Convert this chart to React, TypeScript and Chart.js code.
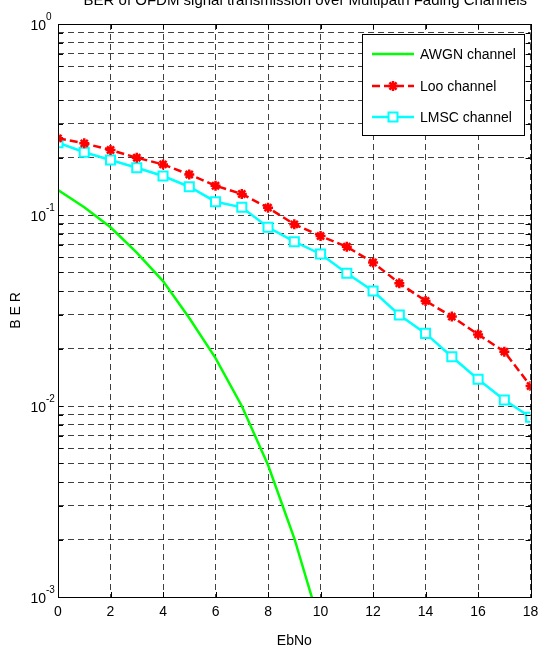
import React, { useEffect, useRef } from "react";
import { Chart, registerables } from "chart.js";

Chart.register(...registerables);

// ---- data ----
const ebNo = [0, 1, 2, 3, 4, 5, 6, 7, 8, 9, 10, 11, 12, 13, 14, 15, 16, 17, 18];
const awgnEbNo = [0, 1, 2, 3, 4, 5, 6, 7, 8, 9, 10];
const awgnBer = [0.135, 0.1097, 0.0862, 0.0635, 0.0451, 0.0289, 0.0178, 0.01, 0.00491, 0.00203, 0.0007];
const looBer = [
  0.252, 0.2373, 0.219, 0.1995, 0.184, 0.163, 0.1423, 0.1288, 0.1092, 0.0894,
  0.0776, 0.0682, 0.0564, 0.0439, 0.0355, 0.0294, 0.0237, 0.01925, 0.01273,
];
const lmscBer = [
  0.239, 0.213, 0.194, 0.1768, 0.16, 0.1406, 0.1174, 0.1097, 0.0862, 0.0725,
  0.0625, 0.0495, 0.04, 0.02995, 0.024, 0.0181, 0.0138, 0.01075, 0.00873,
];
const xTicks = [0, 2, 4, 6, 8, 10, 12, 14, 16, 18];
const yDecadeExponents = [-3, -2, -1, 0];
const yMinorMultipliers = [2, 3, 4, 5, 6, 7, 8, 9];
const seriesNames = ["AWGN channel", "Loo channel", "LMSC channel"];
const titleText = "BER of OFDM signal transmission over Multipath Fading Channels";
const xTitle = "EbNo";
const yTitle = "B E R";

const FONT = '"Liberation Sans", Arial, Helvetica, sans-serif';
const GREEN = "#00ff00";
const RED = "#ff0000";
const CYAN = "#00ffff";

const yTickValues: number[] = [];
yDecadeExponents.forEach((e) => {
  yTickValues.push(Math.pow(10, e));
  if (e < 0) yMinorMultipliers.forEach((m) => yTickValues.push(m * Math.pow(10, e)));
});

function drawStar(ctx: CanvasRenderingContext2D, x: number, y: number, r: number) {
  ctx.beginPath();
  for (let k = 0; k < 4; k++) {
    const a = (k * Math.PI) / 4;
    ctx.moveTo(x + Math.cos(a) * r, y + Math.sin(a) * r);
    ctx.lineTo(x - Math.cos(a) * r, y - Math.sin(a) * r);
  }
  ctx.stroke();
}

const framePlugin = {
  id: "matlabFrame",
  afterDraw(chart: any) {
    const { ctx, chartArea } = chart;
    const { left, right, top, bottom } = chartArea;
    const xs = chart.scales.x;
    const ys = chart.scales.y;
    ctx.save();
    // box
    ctx.strokeStyle = "#000";
    ctx.lineWidth = 1;
    ctx.setLineDash([]);
    ctx.strokeRect(Math.round(left) + 0.5, Math.round(top) + 0.5, Math.round(right - left), Math.round(bottom - top));
    // tick marks
    const tl = 5;
    ctx.beginPath();
    xTicks.forEach((v) => {
      const px = Math.round(xs.getPixelForValue(v)) + 0.5;
      ctx.moveTo(px, bottom);
      ctx.lineTo(px, bottom - tl);
      ctx.moveTo(px, top);
      ctx.lineTo(px, top + tl);
    });
    yTickValues.forEach((v) => {
      const py = Math.round(ys.getPixelForValue(v)) + 0.5;
      ctx.moveTo(left, py);
      ctx.lineTo(left + tl, py);
      ctx.moveTo(right, py);
      ctx.lineTo(right - tl, py);
    });
    ctx.stroke();

    // x tick labels
    ctx.fillStyle = "#000";
    ctx.font = `14px ${FONT}`;
    ctx.textAlign = "center";
    ctx.textBaseline = "alphabetic";
    xTicks.forEach((v) => {
      ctx.fillText(String(v), xs.getPixelForValue(v), bottom + 19);
    });
    // y tick labels 10^n
    yDecadeExponents.forEach((e) => {
      const py = ys.getPixelForValue(Math.pow(10, e));
      ctx.font = `14px ${FONT}`;
      ctx.textAlign = "right";
      ctx.fillText("10", left - 12, py + 6);
      ctx.font = `10px ${FONT}`;
      ctx.textAlign = "left";
      ctx.fillText(String(e), left - 12, py - 4);
    });
    // axis titles
    ctx.font = `14px ${FONT}`;
    ctx.textAlign = "center";
    ctx.fillText(xTitle, (left + right) / 2, bottom + 48);
    ctx.save();
    ctx.translate(20, (top + bottom) / 2);
    ctx.rotate(-Math.PI / 2);
    ctx.fillText(yTitle, 0, 0);
    ctx.restore();
    // title (partially cut off at top)
    ctx.font = `15px ${FONT}`;
    ctx.fillText(titleText, (left + right) / 2 + 11, 5);

    // legend
    const lx = 362.5, ly = 34.5, lw = 162, lh = 101;
    ctx.fillStyle = "#fff";
    ctx.fillRect(lx, ly, lw, lh);
    ctx.strokeStyle = "#000";
    ctx.lineWidth = 1;
    ctx.strokeRect(lx, ly, lw, lh);
    const rows = [54, 86, 117];
    const colors = [GREEN, RED, CYAN];
    rows.forEach((ry, i) => {
      ctx.strokeStyle = colors[i];
      ctx.lineWidth = 2.5;
      ctx.setLineDash(i === 1 ? [8, 4] : []);
      ctx.beginPath();
      ctx.moveTo(372, ry);
      ctx.lineTo(414, ry);
      ctx.stroke();
      ctx.setLineDash([]);
      if (i === 1) {
        ctx.lineWidth = 2.5;
        drawStar(ctx, 393, ry, 5);
      }
      if (i === 2) {
        ctx.lineWidth = 2;
        ctx.fillStyle = "#fff";
        ctx.fillRect(388.5, ry - 4.5, 9, 9);
        ctx.strokeRect(388.5, ry - 4.5, 9, 9);
      }
      ctx.fillStyle = "#000";
      ctx.font = `14px ${FONT}`;
      ctx.textAlign = "left";
      ctx.textBaseline = "middle";
      ctx.fillText(seriesNames[i], 420, ry + 1);
      ctx.textBaseline = "alphabetic";
    });
    ctx.restore();
  },
};

export default function App() {
  const ref = useRef<HTMLCanvasElement | null>(null);
  useEffect(() => {
    if (!ref.current) return;
    const chart = new Chart(ref.current, {
      type: "line",
      data: {
        datasets: [
          {
            label: seriesNames[1],
            data: ebNo.map((x, i) => ({ x, y: looBer[i] })),
            borderColor: RED,
            backgroundColor: RED,
            borderWidth: 2.5,
            borderDash: [8, 4],
            pointStyle: "star",
            pointRadius: 5,
            pointBorderWidth: 2.5,
            pointBorderColor: RED,
            pointBackgroundColor: RED,
            tension: 0,
            order: 1,
          },
          {
            label: seriesNames[2],
            data: ebNo.map((x, i) => ({ x, y: lmscBer[i] })),
            borderColor: CYAN,
            backgroundColor: "#fff",
            borderWidth: 2.5,
            pointStyle: "rect",
            pointRadius: 6.4,
            pointBorderWidth: 2,
            pointBorderColor: CYAN,
            pointBackgroundColor: "#fff",
            tension: 0,
            order: 2,
          },
          {
            label: seriesNames[0],
            data: awgnEbNo.map((x, i) => ({ x, y: awgnBer[i] })),
            borderColor: GREEN,
            backgroundColor: GREEN,
            borderWidth: 2.5,
            pointRadius: 0,
            tension: 0,
            order: 3,
          },
        ],
      },
      options: {
        animation: false,
        responsive: false,
        devicePixelRatio: 1,
        layout: { padding: { left: 58, right: 8, top: 24, bottom: 60 } },
        plugins: { legend: { display: false }, title: { display: false }, tooltip: { enabled: false } },
        scales: {
          x: {
            type: "linear",
            min: 0,
            max: 18,
            ticks: { display: false, stepSize: 2 },
            afterBuildTicks: (s: any) => {
              s.ticks = xTicks.map((v) => ({ value: v }));
            },
            grid: { color: "rgba(0,0,0,0.75)", lineWidth: 1, drawTicks: false },
            border: { display: false, dash: [6, 4] },
            title: { display: false },
          },
          y: {
            type: "logarithmic",
            min: 0.001,
            max: 1,
            ticks: { display: false },
            afterBuildTicks: (s: any) => {
              s.ticks = yTickValues.map((v) => ({ value: v }));
            },
            grid: { color: "rgba(0,0,0,0.75)", lineWidth: 1, drawTicks: false },
            border: { display: false, dash: [6, 4] },
            title: { display: false },
          },
        },
      },
      plugins: [framePlugin],
    });
    return () => chart.destroy();
  }, []);
  return (
    <div style={{ position: "absolute", left: 0, top: 0, width: 539, height: 657, background: "#fff" }}>
      <canvas ref={ref} width={539} height={657} style={{ width: 539, height: 657, display: "block" }} />
    </div>
  );
}
